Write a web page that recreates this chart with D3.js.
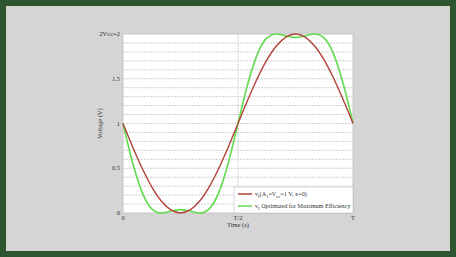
<!DOCTYPE html>
<html lang="en">
  <head>
    <meta charset="UTF-8" />
    <title>Voltage waveforms</title>
    <script src="https://cdnjs.cloudflare.com/ajax/libs/d3/7.8.5/d3.min.js"></script>
    <style>
      html,
      body {
        margin: 0;
        width: 456px;
        height: 257px;
        overflow: hidden;
        background: #2c5530;
      }
      svg {
        display: block;
        font-family: 'Liberation Serif', 'DejaVu Serif', serif;
      }
    </style>
  </head>
  <body>
    <div id="chart"></div>
    <script>
      // fraction of the period, sampled every T/24
      const times = d3.range(25).map((i) => i / 24);
      const sineValues = [
        1, 0.741, 0.5, 0.293, 0.134, 0.034, 0, 0.034, 0.134, 0.293, 0.5, 0.741,
        1, 1.259, 1.5, 1.707, 1.866, 1.966, 2, 1.966, 1.866, 1.707, 1.5, 1.259, 1,
      ];
      const optimizedValues = [
        1, 0.565, 0.23, 0.047, 0, 0.021, 0.038, 0.021, 0, 0.047, 0.23, 0.565,
        1, 1.435, 1.77, 1.953, 2, 1.979, 1.962, 1.979, 2, 1.953, 1.77, 1.435, 1,
      ];
      const xTicks = [0, 0.5, 1];
      const xTickLabels = ["0", "T/2", "T"];
      const yTicks = [0, 0.5, 1, 1.5, 2];
      const yTickLabels = ["0", "0.5", "1", "1.5", "2Vcc=2"];
      const yGrid = d3.range(0, 21).map((i) => i / 10);

      const W = 456, H = 257;
      const margin = { top: 34, right: 103, bottom: 44, left: 123 };
      const iw = W - margin.left - margin.right,
        ih = H - margin.top - margin.bottom;

      const svg = d3
        .select("#chart")
        .append("svg")
        .attr("width", W)
        .attr("height", H);

      // frame
      svg.append("rect")
        .attr("x", 6).attr("y", 6)
        .attr("width", W - 12).attr("height", H - 12)
        .attr("fill", "#d5d5d5");

      const x = d3.scaleLinear().domain([0, 1]).range([0, iw]);
      const y = d3.scaleLinear().domain([0, 2]).range([ih, 0]);

      const g = svg.append("g")
        .attr("transform", `translate(${margin.left},${margin.top})`);

      g.append("rect")
        .attr("width", iw).attr("height", ih)
        .attr("fill", "#ffffff");

      g.selectAll(".hgrid")
        .data(yGrid.slice(1, -1))
        .join("line")
        .attr("x1", 0).attr("x2", iw)
        .attr("y1", (d) => y(d)).attr("y2", (d) => y(d))
        .attr("stroke", "#c4c4c4")
        .attr("stroke-width", 0.8)
        .attr("stroke-dasharray", "2,1");

      g.append("line")
        .attr("x1", x(0.5)).attr("x2", x(0.5))
        .attr("y1", 0).attr("y2", ih)
        .attr("stroke", "#b0b0b0")
        .attr("stroke-width", 0.8)
        .attr("stroke-dasharray", "1,1");

      g.append("rect")
        .attr("width", iw).attr("height", ih)
        .attr("fill", "none")
        .attr("stroke", "#bdbdbd")
        .attr("stroke-width", 0.8);

      const line = (vals) =>
        d3.line()
          .x((d, i) => x(times[i]))
          .y((d) => y(d))
          .curve(d3.curveMonotoneX)(vals);

      g.append("path")
        .attr("d", line(optimizedValues))
        .attr("fill", "none")
        .attr("stroke", "#62db4f")
        .attr("stroke-width", 1.6);

      g.append("path")
        .attr("d", line(sineValues))
        .attr("fill", "none")
        .attr("stroke", "#b3413a")
        .attr("stroke-width", 1.4);

      // axes labels
      g.selectAll(".xt")
        .data(xTicks)
        .join("text")
        .attr("x", (d) => x(d))
        .attr("y", ih + 7)
        .attr("text-anchor", "middle")
        .attr("font-size", 6.5)
        .attr("fill", "#333")
        .text((d, i) => xTickLabels[i]);

      g.selectAll(".yt")
        .data(yTicks)
        .join("text")
        .attr("x", -3)
        .attr("y", (d) => y(d) + 2)
        .attr("text-anchor", "end")
        .attr("font-size", 6.5)
        .attr("fill", "#333")
        .text((d, i) => yTickLabels[i]);

      g.append("text")
        .attr("x", iw / 2)
        .attr("y", ih + 14)
        .attr("text-anchor", "middle")
        .attr("font-size", 6.5)
        .attr("fill", "#333")
        .text("Time (s)");

      g.append("text")
        .attr("transform", `translate(-21,${ih / 2}) rotate(-90)`)
        .attr("text-anchor", "middle")
        .attr("font-size", 6.5)
        .attr("fill", "#333")
        .text("Voltage (V)");

      // legend
      const lg = g.append("g").attr("transform", `translate(${iw - 119},${ih - 26})`);
      lg.append("rect")
        .attr("width", 119).attr("height", 26)
        .attr("fill", "#fff")
        .attr("stroke", "#bdbdbd")
        .attr("stroke-width", 0.6);
      const entries = [
        { color: "#b3413a", parts: [["v", ""], ["I", "sub"], ["(A", ""], ["1", "sub"], ["=V", ""], ["cc", "sub"], ["=1 V, x=0)", ""]] },
        { color: "#62db4f", parts: [["v", ""], ["I", "sub"], [" Optimized for Maximum Efficiency", ""]] },
      ];
      entries.forEach((e, i) => {
        const yy = 7 + i * 12;
        lg.append("line")
          .attr("x1", 4).attr("x2", 18)
          .attr("y1", yy).attr("y2", yy)
          .attr("stroke", e.color)
          .attr("stroke-width", 1.5);
        const t = lg.append("text")
          .attr("x", 21).attr("y", yy + 2)
          .attr("font-size", 6.2)
          .attr("fill", "#333");
        let prevSub = false;
        e.parts.forEach(([s, k]) => {
          const sub = !!k;
          t.append("tspan")
            .attr("font-size", sub ? 4.5 : 6.2)
            .attr("dy", (sub ? 1.5 : 0) - (prevSub ? 1.5 : 0))
            .text(s);
          prevSub = sub;
        });
      });
    </script>
  </body>
</html>
